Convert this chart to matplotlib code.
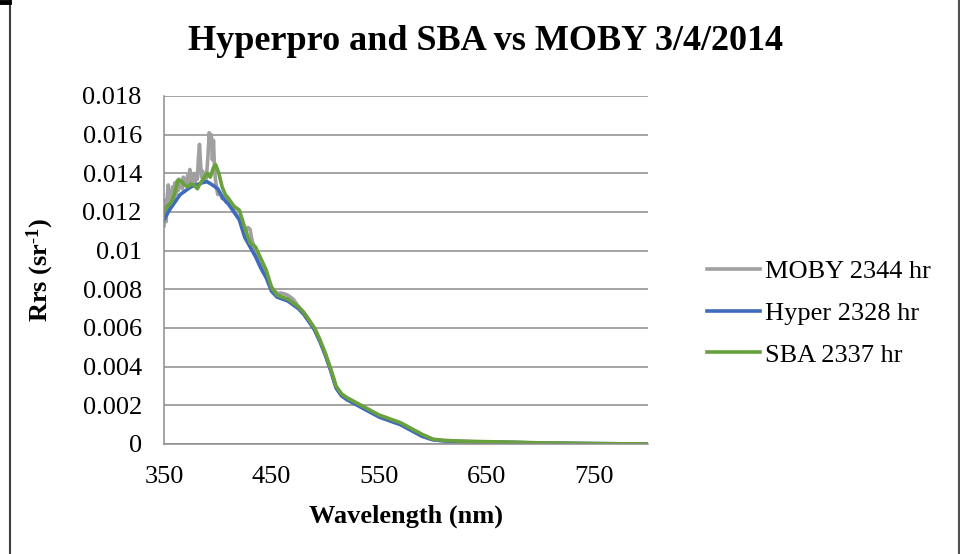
import numpy as np
import matplotlib
matplotlib.use("Agg")
import matplotlib.pyplot as plt
from matplotlib.lines import Line2D

###############################################################################
# Datos
###############################################################################
moby_wl = [350, 351, 352, 353, 354, 355, 356, 357, 358, 359, 360, 361, 362, 363,
           364, 365, 366, 367, 368, 369, 370, 371, 372, 373, 374, 375, 376, 377,
           378, 379, 380, 381, 382, 383, 384, 385, 386, 387, 388, 389, 390, 391,
           392, 393, 394, 395, 396, 397, 398, 399, 400, 402, 404, 406, 408, 410,
           412, 414, 416, 418, 420, 422, 424, 426, 428, 430, 432, 434, 436, 438,
           440, 442, 444, 446, 448, 450, 455, 460, 465, 470, 475, 480, 485, 490,
           495, 500, 505, 510, 515, 520, 530, 540, 550, 560, 570, 580, 590, 600,
           610, 625, 650, 675, 700, 725, 750, 775, 800]
moby = [0.0113, 0.0126, 0.0115, 0.0128, 0.0134, 0.0121, 0.0131, 0.0126, 0.0133,
        0.0127, 0.0135, 0.0129, 0.0136, 0.0131, 0.0137, 0.0133, 0.0136, 0.0132,
        0.0138, 0.0134, 0.0137, 0.0135, 0.0139, 0.0134, 0.0142, 0.0135, 0.0138,
        0.0136, 0.0140, 0.0135, 0.0139, 0.0137, 0.0148, 0.0155, 0.0145, 0.0138,
        0.0141, 0.0136, 0.0139, 0.0137, 0.0142, 0.0150, 0.0161, 0.0155, 0.0160,
        0.0147, 0.0157, 0.0142, 0.0136, 0.0132, 0.0129, 0.0130, 0.0127, 0.0128,
        0.0125, 0.0126, 0.0123, 0.0122, 0.0120, 0.0118, 0.0117, 0.0117, 0.0113,
        0.0110, 0.0112, 0.0111, 0.0105, 0.0102, 0.0099, 0.0096, 0.0094, 0.0091,
        0.0089, 0.0086, 0.0083, 0.0081, 0.0078, 0.0078, 0.0077, 0.0075, 0.0071,
        0.0068, 0.0064, 0.0059, 0.0053, 0.0046, 0.0038, 0.0029, 0.0025, 0.0023,
        0.0020, 0.0017, 0.0014, 0.0012, 0.0010, 0.0007, 0.0004, 0.00022, 0.00017,
        0.00013, 0.0001, 0.00008, 0.00005, 0.00003, 0.00002, 0.00001, 0.00001]

hyper_wl = [350, 355, 360, 365, 370, 375, 380, 385, 390, 395, 400, 405, 410, 415,
            420, 425, 430, 435, 440, 445, 450, 455, 460, 465, 470, 475, 480, 485,
            490, 495, 500, 505, 510, 515, 520, 530, 540, 550, 560, 570, 580, 590,
            600, 610, 625, 650, 675, 700, 725, 750, 775, 800]
hyper = [0.0116, 0.0121, 0.0125, 0.0129, 0.0131, 0.0133, 0.0134, 0.0135, 0.01357,
         0.0134, 0.0132, 0.0127, 0.0124, 0.0120, 0.0116, 0.0107, 0.0102, 0.0097,
         0.0091, 0.0086, 0.0079, 0.0076, 0.0075, 0.0074, 0.0072, 0.0070, 0.0067,
         0.0063, 0.0059, 0.0053, 0.0046, 0.0038, 0.0029, 0.0025, 0.0023, 0.0020,
         0.0017, 0.0014, 0.0012, 0.0010, 0.0007, 0.0004, 0.00022, 0.00016, 0.00013,
         0.0001, 0.00008, 0.00005, 0.00003, 0.00002, 0.00001, 0.00001]

sba_wl = [350, 353, 357, 360, 363, 366, 369, 372, 375, 378, 381, 384, 387, 390,
          393, 396, 398, 401, 404, 407, 410, 415, 420, 425, 430, 435, 440, 445,
          450, 455, 460, 465, 470, 475, 480, 485, 490, 495, 500, 505, 510, 515,
          520, 530, 540, 550, 560, 570, 580, 590, 600, 610, 625, 650, 675, 700,
          725, 750, 775, 800]
sba = [0.0120, 0.0123, 0.0125, 0.0130, 0.01365, 0.0136, 0.0134, 0.0133, 0.01345,
       0.0134, 0.0132, 0.0135, 0.01375, 0.0140, 0.0138, 0.0143, 0.01445, 0.0140,
       0.0133, 0.0129, 0.0127, 0.0123, 0.0121, 0.0112, 0.0104, 0.0102, 0.0096,
       0.0090, 0.0081, 0.0077, 0.0076, 0.0075, 0.0073, 0.0071, 0.0068, 0.0064,
       0.0060, 0.0054, 0.0047, 0.0039, 0.0030, 0.0026, 0.0024, 0.0021, 0.0018,
       0.0015, 0.0013, 0.0011, 0.0008, 0.0005, 0.00025, 0.00019, 0.00015, 0.00012,
       0.00009, 0.00006, 0.00004, 0.00002, 0.00001, 0.00001]

xticks = [350, 450, 550, 650, 750]
yticks = [0, 0.002, 0.004, 0.006, 0.008, 0.01, 0.012, 0.014, 0.016, 0.018]
ytick_labels = ["0", "0.002", "0.004", "0.006", "0.008", "0.01", "0.012",
                "0.014", "0.016", "0.018"]

###############################################################################
# Grafico
###############################################################################
plt.rcParams['font.family'] = ['Liberation Serif', 'DejaVu Serif']
plt.rcParams['mathtext.fontset'] = 'custom'
plt.rcParams['mathtext.rm'] = 'Liberation Serif'
plt.rcParams['mathtext.bf'] = 'Liberation Serif:bold'
plt.rcParams['mathtext.default'] = 'bf'

fig = plt.figure(figsize=(9.6, 5.54), dpi=100)
ax = fig.add_axes([164/960, 1 - 444/554, (648 - 164)/960, (444 - 96)/554])

ax.plot(moby_wl, moby, color="#a0a0a0", lw=2.6, label="MOBY 2344 hr")
ax.plot(hyper_wl, hyper, color="#3f6bbd", lw=2.6, label="Hyper 2328 hr")
ax.plot(sba_wl, sba, color="#69a13c", lw=2.6, label="SBA 2337 hr")

ax.set_xlim(350, 800)
ax.set_ylim(0, 0.018)
ax.set_xticks(xticks)
ax.set_yticks(yticks)
ax.set_yticklabels(ytick_labels)
ax.tick_params(length=0, labelsize=19, pad=16)
ax.grid(True, axis="y", color="#8c8c8c", lw=1.1)
ax.set_axisbelow(True)
for s in ["top", "right"]:
    ax.spines[s].set_visible(False)
for s in ["left", "bottom"]:
    ax.spines[s].set_color("#8c8c8c")
    ax.spines[s].set_linewidth(1.1)

ax.set_xlabel("Wavelength (nm)", fontsize=19, fontweight="bold", labelpad=12)
fig.text(40/960, 0.5 + (554/2 - 270)/554, r"Rrs (sr$^{\mathbf{\text{-}1}}$)", fontsize=19,
         fontweight="bold", rotation=90, ha="center", va="center")
fig.text(486/960, 1 - 42/554, "Hyperpro and SBA vs MOBY 3/4/2014", fontsize=26,
         fontweight="bold", ha="center", va="center")

ax.legend(loc="center left", bbox_to_anchor=(707/960, 1 - 313/554),
          bbox_transform=fig.transFigure, frameon=False, fontsize=19,
          handlelength=2.0, handletextpad=0.2, labelspacing=0.7,
          borderpad=0, borderaxespad=0)

# marco de la imagen
fig.add_artist(Line2D([10/960, 10/960], [0, 1], color="#404040", lw=1.5))
fig.add_artist(Line2D([0, 9/960], [1 - 2/554, 1 - 2/554], color="black", lw=3.5))
fig.add_artist(Line2D([958.5/960, 958.5/960], [0, 1], color="#505050", lw=1.5))

fig.savefig("out.png", dpi=100)
